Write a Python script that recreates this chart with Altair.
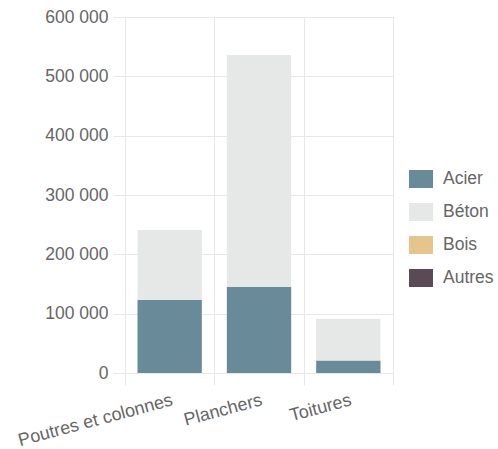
import altair as alt
import pandas as pd

categories = ["Poutres et colonnes", "Planchers", "Toitures"]
materials = ["Acier", "Béton", "Bois", "Autres"]
acier = [123000, 145500, 21000]
beton = [118000, 390500, 70000]
bois = [0, 0, 0]
autres = [0, 0, 0]
colors = ["#688a99", "#e6e8e8", "#e6c48e", "#5a4a56"]
y_ticks = [0, 100000, 200000, 300000, 400000, 500000, 600000]

rows = []
for series, name in zip([acier, beton, bois, autres], materials):
    for cat, v in zip(categories, series):
        rows.append({"cat": cat, "mat": name, "val": v, "order": materials.index(name)})
df = pd.DataFrame(rows)

FONT = "Liberation Sans"
GRID = "#e8e8e8"
TXT = "#666666"

chart = alt.Chart(df).mark_bar(width={"band": 0.72}).encode(
    x=alt.X("cat:N", sort=categories, title=None,
            scale=alt.Scale(paddingInner=0, paddingOuter=0),
            axis=alt.Axis(tickBand="extent", grid=True, gridColor=GRID, tickColor=GRID,
                          tickSize=12, domain=False, labelAngle=345, labelAlign="right",
                          labelBaseline="top", labelPadding=6, labelFontSize=18,
                          labelColor=TXT, labelFont=FONT)),
    y=alt.Y("val:Q", stack="zero", title=None,
            scale=alt.Scale(domain=[0, 600000], nice=False),
            axis=alt.Axis(values=y_ticks, grid=True, gridColor=GRID, tickColor=GRID,
                          tickSize=12, domain=False, labelPadding=5, labelFontSize=17.5,
                          labelColor=TXT, labelFont=FONT,
                          labelExpr="replace(format(datum.value, ','), regexp(',', 'g'), ' ')")),
    color=alt.Color("mat:N", sort=materials,
                    scale=alt.Scale(domain=materials, range=colors),
                    legend=alt.Legend(title=None, orient="none", legendX=287, legendY=153,
                                      padding=0,
                                      symbolType="M-1.333,-1H1.333V1H-1.333Z",
                                      symbolSize=324, symbolStrokeWidth=0, symbolOpacity=1,
                                      labelOffset=13, rowPadding=15,
                                      labelFontSize=17.5, labelColor=TXT, labelFont=FONT)),
    order=alt.Order("order:Q"),
).properties(
    width=268, height=356, autosize="none",
    padding={"left": 125, "top": 17, "right": 105, "bottom": 76},
).configure_view(stroke=GRID)

chart.save("out.html", embed_options={"renderer": "svg", "actions": False})
